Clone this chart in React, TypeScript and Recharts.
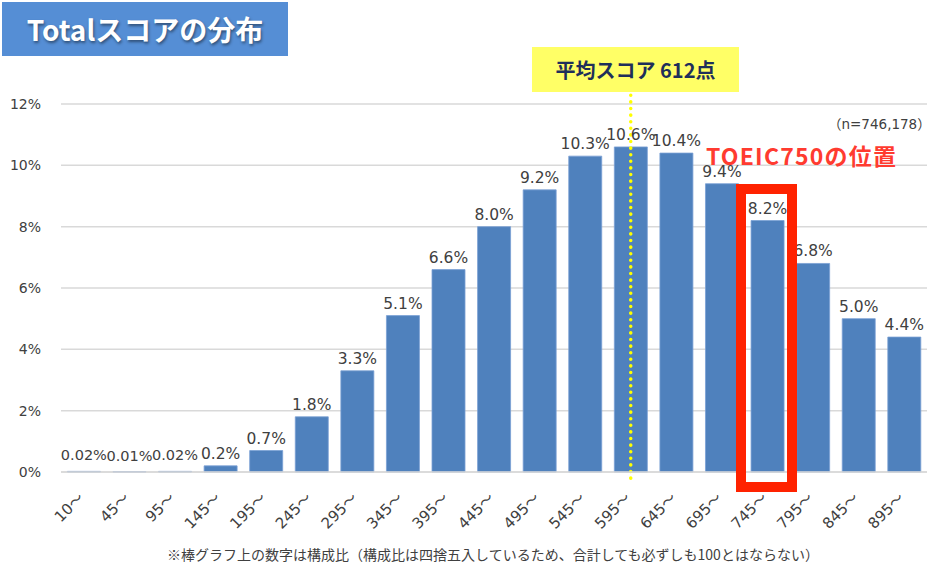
import { BarChart, Bar, XAxis, YAxis, CartesianGrid, LabelList, ReferenceLine } from 'recharts';

// スコア帯と構成比(%)
const scoreBands = ['10～', '45～', '95～', '145～', '195～', '245～', '295～', '345～', '395～', '445～', '495～', '545～', '595～', '645～', '695～', '745～', '795～', '845～', '895～'];
const shares = [0.02, 0.01, 0.02, 0.2, 0.7, 1.8, 3.3, 5.1, 6.6, 8.0, 9.2, 10.3, 10.6, 10.4, 9.4, 8.2, 6.8, 5.0, 4.4];
const shareLabels = ['0.02%', '0.01%', '0.02%', '0.2%', '0.7%', '1.8%', '3.3%', '5.1%', '6.6%', '8.0%', '9.2%', '10.3%', '10.6%', '10.4%', '9.4%', '8.2%', '6.8%', '5.0%', '4.4%'];
const yTicks = [0, 2, 4, 6, 8, 10, 12];
const averageBand = '595～';

const data = scoreBands.map((band, i) => ({ band, share: shares[i], label: shareLabels[i] }));

const FONT = '"Noto Sans CJK JP", "Noto Sans", sans-serif';
const NUM_FONT = '"DejaVu Sans", "Noto Sans CJK JP", sans-serif';

const XTick = (props: any) => {
  const { x, y, payload } = props;
  return (
    <g transform={`translate(${x + 1},${y + 19})`}>
      <text textAnchor="end" transform="rotate(-45)" fontSize={15} fill="#404040" fontFamily={NUM_FONT}>
        {payload.value}
      </text>
    </g>
  );
};

// 0.1%未満の小さい値はラベルを小さめに、少し上に
const BarLabel = (props: any) => {
  const { x, y, width, value, index } = props;
  const tiny = shares[index] < 0.1;
  return (
    <text
      x={x + width / 2}
      y={y - (tiny ? 11 : 7)}
      textAnchor="middle"
      fontSize={tiny ? 14.5 : 15.5}
      fill="#404040"
      fontFamily={NUM_FONT}
    >
      {value}
    </text>
  );
};

export default function App() {
  return (
    <div style={{ position: 'absolute', left: 0, top: 0, width: 940, height: 570, background: '#fff', fontFamily: FONT }}>
      <BarChart
        width={940}
        height={570}
        data={data}
        margin={{ top: 104, right: 13, bottom: 38, left: 0 }}
        barCategoryGap="14%"
      >
        <CartesianGrid vertical={false} stroke="#d9d9d9" strokeWidth={1.5} />
        <XAxis
          dataKey="band"
          interval={0}
          height={60}
          tick={<XTick />}
          tickLine={false}
          axisLine={{ stroke: '#d9d9d9', strokeWidth: 1.5 }}
        />
        <YAxis
          width={61}
          domain={[0, 12]}
          ticks={yTicks}
          tickFormatter={(v) => `${v}%`}
          tick={{ fontSize: 14, fill: '#404040', fontFamily: NUM_FONT }}
          tickLine={false}
          axisLine={false}
          tickMargin={14}
        />
        <Bar dataKey="share" fill="#4f81bd" stroke="#7aa0d4" strokeWidth={0.8} isAnimationActive={false}>
          <LabelList dataKey="label" content={<BarLabel />} />
        </Bar>
        <ReferenceLine
          segment={[{ x: averageBand, y: -0.2 }, { x: averageBand, y: 12.35 }]}
          ifOverflow="visible"
          stroke="#ffff00"
          strokeWidth={3.5}
          strokeDasharray="0.1 6.5"
          strokeLinecap="round"
        />
      </BarChart>

      {/* タイトル */}
      <div
        style={{
          position: 'absolute', left: 2, top: 2, width: 286, height: 54, background: '#558ed5',
          color: '#fff', fontSize: 28, fontWeight: 'bold', lineHeight: '54px', textAlign: 'center',
          textShadow: '1px 2px 3px rgba(0,0,0,0.45)',
        }}
      >
        Totalスコアの分布
      </div>

      {/* 平均スコア */}
      <div
        style={{
          position: 'absolute', left: 532, top: 47, width: 207, height: 45, background: '#ffff66',
          color: '#1f2f5a', fontSize: 20, fontWeight: 'bold', lineHeight: '45px', textAlign: 'center',
        }}
      >
        平均スコア 612点
      </div>

      <div style={{ position: 'absolute', left: 828, top: 113, fontSize: 13.5, color: '#404040', whiteSpace: 'nowrap', fontFamily: NUM_FONT }}>
        （n=746,178）
      </div>

      <div style={{ position: 'absolute', left: 706, top: 141, fontSize: 23, lineHeight: '28px', fontWeight: 'bold', color: '#ff3b30', whiteSpace: 'nowrap', letterSpacing: 1.2 }}>
        TOEIC750の位置
      </div>

      {/* 750点の枠 */}
      <div
        style={{
          position: 'absolute', left: 736, top: 184, width: 61, height: 308,
          border: '10px solid #ff2200', boxSizing: 'border-box',
        }}
      />

      <div style={{ position: 'absolute', left: 0, top: 544, width: 986, textAlign: 'center', fontSize: 14, color: '#404040', whiteSpace: 'nowrap' }}>
        ※棒グラフ上の数字は構成比（構成比は四捨五入しているため、合計しても必ずしも100とはならない）
      </div>
    </div>
  );
}
